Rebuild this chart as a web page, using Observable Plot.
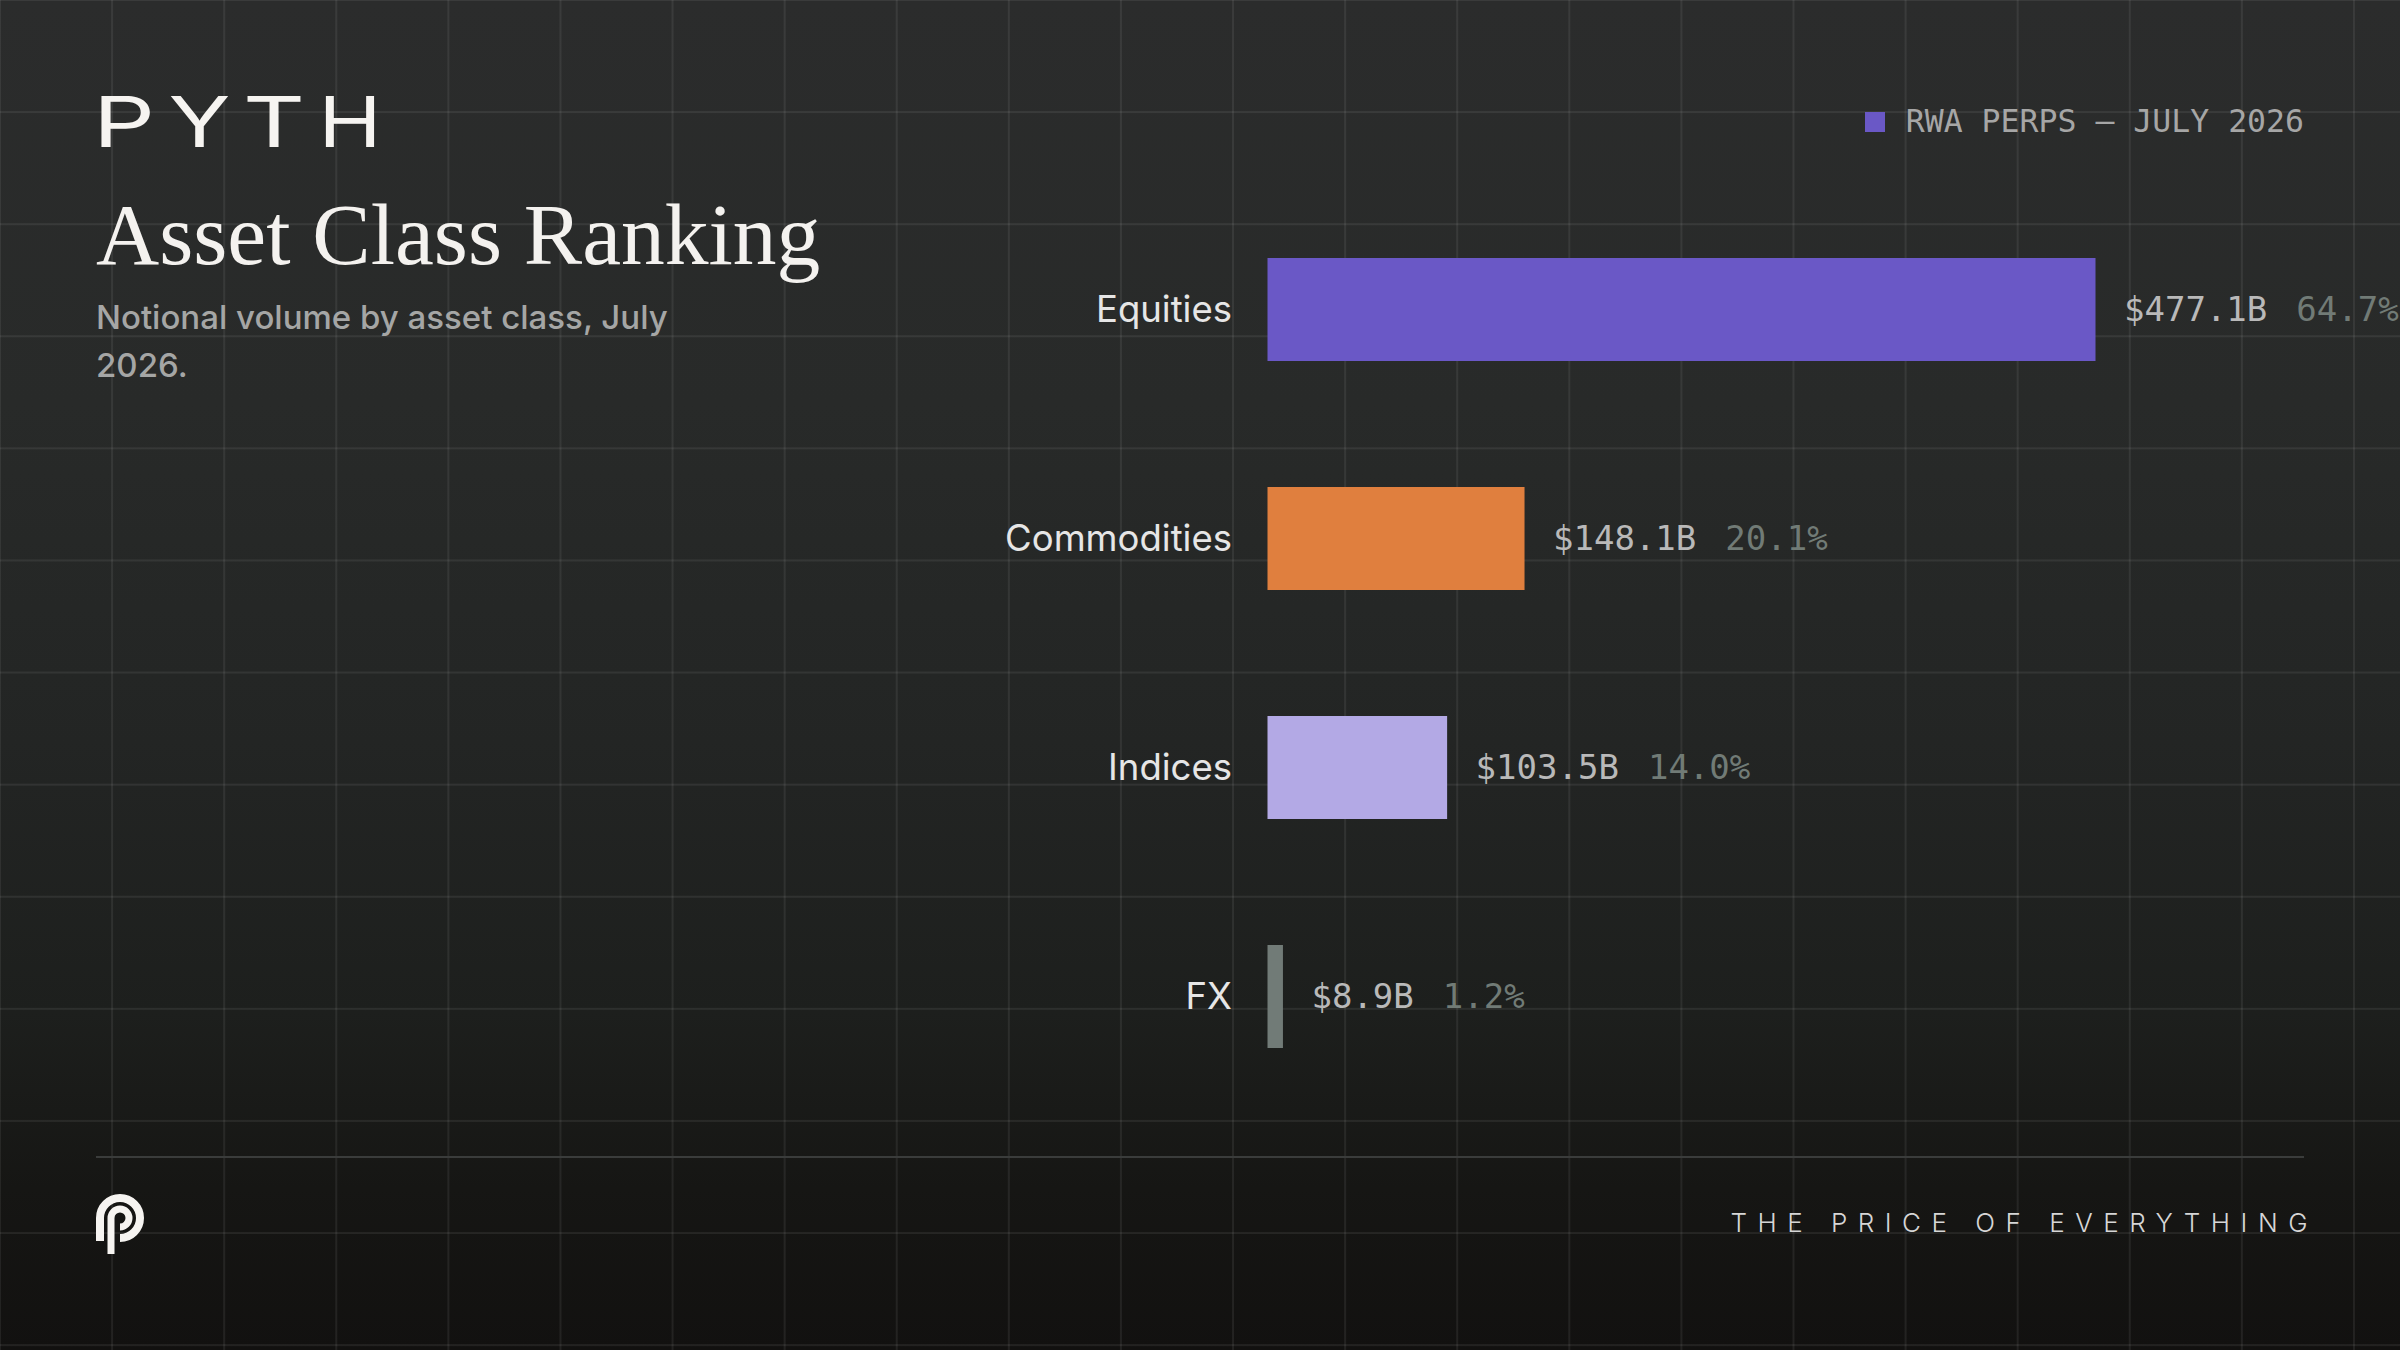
<!DOCTYPE html>
<html>
<head>
<meta charset="utf-8">
<script src="https://cdn.jsdelivr.net/npm/d3@7"></script>
<script src="https://cdn.jsdelivr.net/npm/@observablehq/plot@0.6"></script>
<style>
  html, body { margin: 0; padding: 0; }
  body {
    width: 2400px; height: 1350px; overflow: hidden; position: relative;
    background: linear-gradient(180deg, #2b2c2c 0%, #282a29 30%, #232524 55%, #1d1f1d 75%, #161614 88%, #121110 100%);
    font-family: Inter, "Noto Sans", sans-serif;
  }
  #grid {
    position: absolute; inset: 0;
    background-image:
      linear-gradient(90deg, rgba(255,255,255,0.07) 2px, transparent 2px),
      linear-gradient(180deg, rgba(255,255,255,0.07) 2px, transparent 2px);
    background-size: 112.1px 112.1px;
    background-position: -1px -1px;
  }
  #chart { position: absolute; left: 0; top: 0; }
  .abs { position: absolute; white-space: nowrap; }
  #title {
    left: 96px; top: 191px; font-family: "Liberation Serif", serif; font-size: 87.5px;
    line-height: 88px; color: #f4f2ef; font-weight: 400;
  }
  #subtitle {
    left: 96px; top: 293px; width: 620px; white-space: normal; font-size: 33px; line-height: 48px;
    color: #a5a6a5; font-family: Inter, sans-serif; font-weight: 450;
  }
  #legend { right: 96px; top: 106px; display: flex; align-items: center; gap: 21px; }
  #legend .sw { width: 20px; height: 20px; background: #6a58c6; }
  #legend .lt { font-family: "DejaVu Sans Mono", monospace; font-size: 31.5px; line-height: 31.5px; color: #a6a6a6; }
  #rule { left: 96px; top: 1156px; width: 2208px; height: 2px; background: #3a3c3b; }
  #tagline {
    right: 82px; top: 1210px; font-size: 26px; line-height: 26px; letter-spacing: 10.5px;
    color: #d6d6d6; font-family: Inter, sans-serif; font-weight: 300;
  }
</style>
</head>
<body>
<div id="grid"></div>
<div id="chart"></div>

<svg class="abs" style="left:0;top:0" width="420" height="170">
  <g font-family="Inter, sans-serif" font-size="70" fill="#f6f4f1" font-weight="400">
    <text x="93" y="146.7" textLength="62" lengthAdjust="spacingAndGlyphs">P</text>
    <text x="168.5" y="146.7" textLength="62" lengthAdjust="spacingAndGlyphs">Y</text>
    <text x="243" y="146.7" textLength="62" lengthAdjust="spacingAndGlyphs">T</text>
    <text x="318.5" y="146.7" textLength="63" lengthAdjust="spacingAndGlyphs">H</text>
  </g>
</svg>
<div id="title" class="abs">Asset Class Ranking</div>
<div id="subtitle" class="abs">Notional volume by asset class, July 2026.</div>
<div id="legend" class="abs"><div class="sw"></div><div class="lt">RWA PERPS — JULY 2026</div></div>
<div id="rule" class="abs"></div>
<svg class="abs" style="left:0;top:1160px" width="200" height="120" viewBox="0 1160 200 120">
  <g fill="none" stroke="#f6f4f1" stroke-linecap="butt">
    <path d="M100,1241 L100,1218 A20,20 0 1 1 120,1238" stroke-width="8"/>
    <path d="M111,1254 L111,1218 A9,9 0 1 1 120,1227" stroke-width="7"/>
  </g>
</svg>
<div id="tagline" class="abs">THE PRICE OF EVERYTHING</div>

<script>
const categories = ["Equities", "Commodities", "Indices", "FX"];
const volumes = [477.1, 148.1, 103.5, 8.9];       // notional volume, $B
const shares = [64.7, 20.1, 14.0, 1.2];           // share of total, %
const barColors = ["#6a58c6", "#e07f3e", "#b3a9e5", "#717b77"];

const data = categories.map((c, i) => ({category: c, volume: volumes[i], share: shares[i]}));
const valueLabel = d => `$${d.volume.toFixed(1)}B`;
const shareLabel = d => `${d.share.toFixed(1)}%`;
const SEP = "|";

const plot = Plot.plot({
  width: 2400,
  height: 1350,
  marginLeft: 1267.5,
  marginRight: 304.5,
  marginTop: 192.6,
  marginBottom: 237.4,
  style: {background: "transparent", overflow: "visible"},
  x: {domain: [0, d3.max(volumes)], axis: null},
  y: {domain: categories, axis: null, padding: 0},
  color: {domain: categories, range: barColors},
  marks: [
    Plot.barX(data, {x: "volume", y: "category", fill: "category", insetTop: 63, insetBottom: 63}),
    Plot.text(data, {x: () => 0, y: "category", text: "category", textAnchor: "end", dx: -36,
      fontFamily: "Inter, sans-serif", fontSize: 36.5, fill: "#e6e6e6"}),
    Plot.text(data, {x: "volume", y: "category", text: d => valueLabel(d) + SEP + shareLabel(d),
      textAnchor: "start", dx: 28,
      fontFamily: "DejaVu Sans Mono, monospace", fontSize: 34, fill: "#b9b9b9"})
  ]
});

// split each value label into the value and a dimmer share
const ns = "http://www.w3.org/2000/svg";
plot.querySelectorAll("text").forEach(t => {
  if (!t.textContent.includes(SEP)) return;
  const [v, s] = t.textContent.split(SEP);
  while (t.firstChild) t.removeChild(t.firstChild);
  const a = document.createElementNS(ns, "tspan");
  a.textContent = v;
  const b = document.createElementNS(ns, "tspan");
  b.textContent = s;
  b.setAttribute("dx", "29");
  b.setAttribute("fill", "#717b76");
  t.appendChild(a);
  t.appendChild(b);
});
document.getElementById("chart").appendChild(plot);
</script>
</body>
</html>
